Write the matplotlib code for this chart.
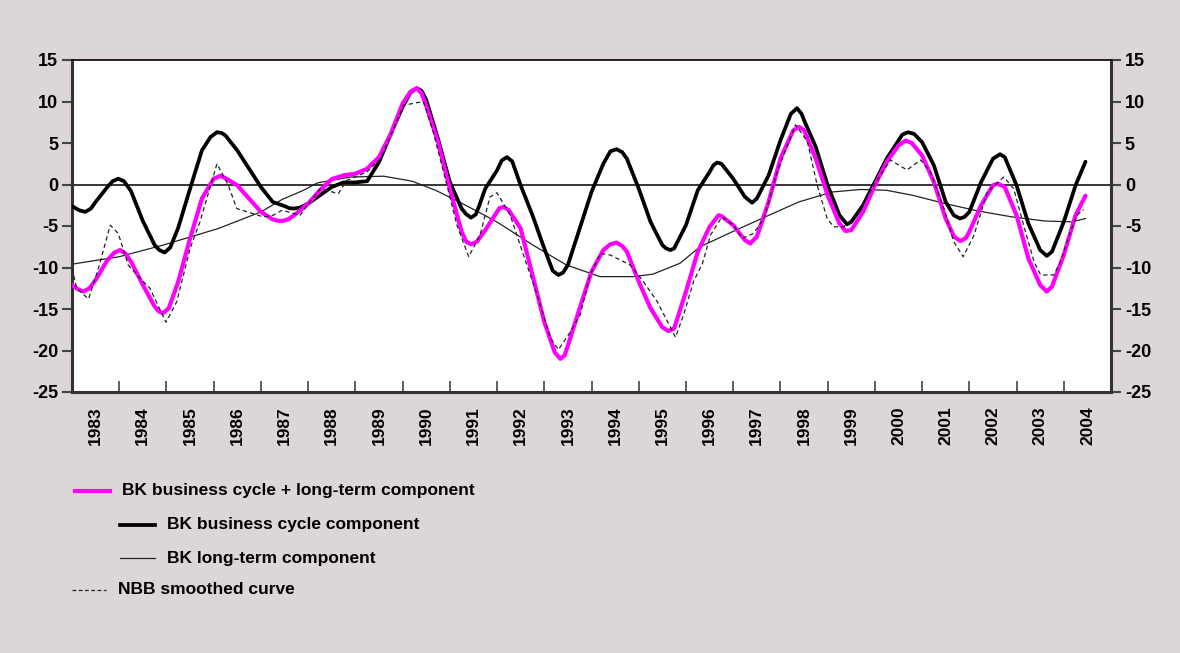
import numpy as np
import matplotlib
matplotlib.use("Agg")
import matplotlib.pyplot as plt
from matplotlib.lines import Line2D

plt.rcParams['font.family'] = ['Liberation Sans', 'DejaVu Sans']
plt.rcParams['axes.unicode_minus'] = False

# BK business cycle + long-term component (magenta)
sum_t = [1983.0, 1983.12, 1983.24, 1983.37, 1983.5, 1983.75, 1983.9, 1984.02, 1984.13, 1984.25,
         1984.5, 1984.75, 1984.84, 1984.93, 1985.05, 1985.25, 1985.5, 1985.75, 1986.0, 1986.15,
         1986.3, 1986.5, 1986.75, 1987.0, 1987.25, 1987.35, 1987.45, 1987.58, 1987.75, 1988.0,
         1988.25, 1988.5, 1988.75, 1989.0, 1989.25, 1989.5, 1989.75, 1990.0, 1990.17, 1990.3,
         1990.4, 1990.5, 1990.75, 1991.0, 1991.25, 1991.35, 1991.45, 1991.57, 1991.75, 1992.0,
         1992.05, 1992.14, 1992.25, 1992.5, 1992.75, 1993.0, 1993.22, 1993.34, 1993.43, 1993.5,
         1993.75, 1994.0, 1994.25, 1994.4, 1994.53, 1994.65, 1994.75, 1995.0, 1995.25, 1995.5,
         1995.63, 1995.75, 1996.0, 1996.25, 1996.5, 1996.69, 1996.75, 1997.0, 1997.25, 1997.36,
         1997.5, 1997.75, 1998.0, 1998.27, 1998.39, 1998.5, 1998.75, 1999.0, 1999.25, 1999.38,
         1999.5, 1999.75, 2000.0, 2000.25, 2000.5, 2000.65, 2000.78, 2001.0, 2001.25, 2001.5,
         2001.68, 2001.81, 2001.92, 2002.0, 2002.25, 2002.5, 2002.6, 2002.75, 2003.0, 2003.25,
         2003.5, 2003.64, 2003.75, 2004.0, 2004.25, 2004.46]
sum_v = [-12.1, -12.6, -12.9, -12.5, -11.5, -9.1, -8.2, -7.9, -8.3, -9.3,
         -12.1, -14.7, -15.3, -15.5, -14.9, -11.7, -6.5, -1.7, 0.7, 1.05,
         0.6, -0.1, -1.7, -3.3, -4.2, -4.35, -4.4, -4.2, -3.5, -2.3,
         -0.7, 0.65, 1.1, 1.3, 1.9, 3.3, 6.1, 9.75, 11.2, 11.6,
         11.0, 9.5, 5.1, -0.5, -5.7, -6.9, -7.2, -6.9, -5.5, -3.3,
         -2.85, -2.7, -3.1, -5.3, -10.9, -16.55, -20.2, -21.0, -20.6, -19.4,
         -14.9, -10.5, -7.9, -7.2, -7.0, -7.4, -8.1, -11.7, -14.9, -17.2,
         -17.65, -17.35, -12.9, -8.1, -5.1, -3.7, -3.8, -4.9, -6.7, -7.1,
         -6.3, -2.1, 3.1, 6.5, 6.95, 6.55, 3.1, -1.3, -4.7, -5.6,
         -5.5, -3.3, -0.1, 2.7, 4.7, 5.3, 5.0, 3.5, 0.3, -4.1,
         -6.3, -6.8, -6.5, -5.7, -2.5, -0.1, 0.1, -0.3, -3.7, -8.9,
         -12.1, -12.9, -12.3, -8.5, -3.7, -1.35]

# BK business cycle component (thick black)
cyc_t = [1983.0, 1983.15, 1983.28, 1983.4, 1983.5, 1983.75, 1983.86, 1983.98, 1984.1, 1984.25,
         1984.5, 1984.75, 1984.85, 1984.96, 1985.08, 1985.25, 1985.5, 1985.75, 1985.93, 1986.07,
         1986.17, 1986.25, 1986.5, 1986.75, 1987.0, 1987.25, 1987.5, 1987.6, 1987.69, 1987.82,
         1988.0, 1988.25, 1988.5, 1988.75, 1989.0, 1989.25, 1989.5, 1989.75, 1990.0, 1990.17,
         1990.3, 1990.4, 1990.5, 1990.75, 1991.0, 1991.25, 1991.35, 1991.45, 1991.55, 1991.62,
         1991.75, 1992.0, 1992.1, 1992.21, 1992.32, 1992.5, 1992.75, 1993.0, 1993.18, 1993.3,
         1993.4, 1993.5, 1993.75, 1994.0, 1994.25, 1994.4, 1994.53, 1994.65, 1994.75, 1995.0,
         1995.25, 1995.5, 1995.58, 1995.67, 1995.75, 1996.0, 1996.25, 1996.5, 1996.58, 1996.66,
         1996.75, 1997.0, 1997.25, 1997.4, 1997.5, 1997.75, 1998.0, 1998.22, 1998.35, 1998.45,
         1998.5, 1998.75, 1999.0, 1999.25, 1999.41, 1999.5, 1999.75, 2000.0, 2000.25, 2000.5,
         2000.58, 2000.7, 2000.83, 2001.0, 2001.25, 2001.5, 2001.67, 2001.8, 2001.9, 2002.0,
         2002.25, 2002.5, 2002.65, 2002.75, 2003.0, 2003.25, 2003.5, 2003.64, 2003.75, 2004.0,
         2004.25, 2004.46]
cyc_v = [-2.6, -3.1, -3.3, -2.9, -2.1, -0.3, 0.4, 0.7, 0.4, -0.8,
         -4.4, -7.3, -7.9, -8.2, -7.6, -5.2, -0.5, 4.1, 5.7, 6.3,
         6.2, 5.9, 4.1, 1.9, -0.3, -2.1, -2.6, -2.85, -2.9, -2.8,
         -2.3, -1.3, -0.3, 0.25, 0.25, 0.4, 2.7, 6.1, 9.35, 11.1,
         11.6, 11.3, 10.2, 5.5, 0.3, -2.9, -3.6, -4.0, -3.6, -2.6,
         -0.5, 1.7, 2.9, 3.3, 2.8, -0.1, -3.7, -7.7, -10.4, -10.9,
         -10.6, -9.7, -5.3, -0.9, 2.5, 4.0, 4.25, 3.9, 3.1, -0.5,
         -4.5, -7.3, -7.7, -7.9, -7.7, -4.9, -0.7, 1.5, 2.3, 2.65,
         2.5, 0.7, -1.5, -2.2, -1.7, 1.1, 5.3, 8.5, 9.2, 8.5,
         7.75, 4.5, -0.1, -3.7, -4.8, -4.5, -2.5, 0.3, 3.1, 5.3,
         6.0, 6.3, 6.1, 5.1, 2.3, -2.1, -3.7, -4.1, -3.9, -3.3,
         0.3, 3.1, 3.65, 3.3, -0.1, -4.7, -7.9, -8.6, -8.1, -4.5,
         -0.1, 2.75]

# BK long-term component (thin line)
trend_t = [1983.0, 1984.0, 1984.93, 1986.1, 1987.0, 1987.45, 1987.9, 1988.2, 1988.9, 1989.6,
           1990.2, 1990.7, 1991.2, 1991.8, 1992.05, 1992.76, 1993.47, 1994.18, 1994.88, 1995.3,
           1995.87, 1996.3, 1996.98, 1997.68, 1998.39, 1999.1, 1999.7, 2000.25, 2000.8, 2001.49,
           2002.19, 2002.9, 2003.6, 2004.17, 2004.46]
trend_v = [-9.6, -8.7, -7.3, -5.3, -3.3, -1.8, -0.7, 0.2, 0.9, 1.0,
           0.4, -0.7, -2.1, -3.9, -4.7, -7.3, -9.7, -11.1, -11.1, -10.8,
           -9.5, -7.5, -5.7, -3.9, -2.1, -0.9, -0.6, -0.7, -1.3, -2.3,
           -3.2, -3.9, -4.4, -4.5, -4.1]

# NBB smoothed curve (dashed)
nbb_t = [1983.0, 1983.1, 1983.35, 1983.56, 1983.81, 1983.98, 1984.19, 1984.44, 1984.65, 1984.99,
         1985.22, 1985.5, 1985.71, 1986.07, 1986.31, 1986.49, 1986.77, 1987.05, 1987.26, 1987.45,
         1987.83, 1988.25, 1988.64, 1988.82, 1989.24, 1989.53, 1989.81, 1990.02, 1990.44, 1990.65,
         1990.94, 1991.15, 1991.4, 1991.64, 1991.85, 1992.0, 1992.28, 1992.56, 1992.85, 1993.13,
         1993.3, 1993.55, 1993.76, 1993.97, 1994.19, 1994.4, 1994.82, 1995.1, 1995.39, 1995.78,
         1995.95, 1996.16, 1996.35, 1996.52, 1996.76, 1997.01, 1997.19, 1997.43, 1997.65, 1997.93,
         1998.32, 1998.57, 1998.78, 1998.99, 1999.13, 1999.34, 1999.62, 1999.98, 2000.33, 2000.68,
         2000.97, 2001.18, 2001.46, 2001.67, 2001.87, 2002.1, 2002.38, 2002.73, 2002.94, 2003.15,
         2003.37, 2003.51, 2003.79, 2003.93, 2004.14, 2004.28, 2004.42]
nbb_v = [-10.1, -12.5, -13.8, -10.1, -4.9, -5.9, -9.7, -11.3, -12.5, -16.6,
         -14.1, -7.7, -4.5, 2.5, -0.1, -2.9, -3.4, -3.9, -3.7, -3.1,
         -3.7, -0.5, -1.1, 0.5, 1.5, 3.1, 6.7, 9.55, 10.0, 6.3,
         -0.1, -4.9, -8.7, -6.1, -1.5, -1.0, -3.7, -8.5, -13.3, -18.5,
         -19.9, -17.8, -15.7, -10.9, -8.3, -8.5, -9.7, -11.7, -14.1, -18.4,
         -15.7, -11.7, -9.5, -6.1, -3.9, -4.9, -6.5, -5.9, -4.1, 1.5,
         7.2, 5.2, -0.1, -4.1, -5.1, -5.1, -3.7, -0.1, 2.95, 1.75,
         2.95, 1.5, -2.9, -6.9, -8.7, -6.1, -0.9, 0.9, -0.5, -4.9,
         -9.3, -10.9, -10.9, -9.3, -5.7, -3.7, -3.0]

years = list(range(1983, 2005))
bg = '#ddd6d6'
W, H = 1180, 653

fig = plt.figure(figsize=(11.8, 6.53), dpi=100, facecolor=bg)
ax = fig.add_axes([72 / W, 1 - 392 / H, (1111 - 72) / W, (392 - 60) / H])
ax.set_facecolor('white')

ax.axhline(0, color='black', lw=1.1, zorder=1)
ax.plot(trend_t, trend_v, color='#222222', lw=0.9, zorder=2)
ax.plot(cyc_t, cyc_v, color='black', lw=2.7, zorder=3,
        solid_joinstyle='round', solid_capstyle='round')
ax.plot(sum_t, sum_v, color='#ff00ff', lw=3.0, zorder=4,
        solid_joinstyle='round', solid_capstyle='round')
ax.plot(nbb_t, nbb_v, color='#222222', lw=0.9, ls=(0, (3.5, 2.5)), zorder=5)

ax.set_xlim(1983, 2005)
ax.set_ylim(-25, 15)
ax.set_yticks(range(-25, 20, 5))

# ticks at year boundaries, labels in the middle of each year
ax.set_xticks(range(1984, 2005))
ax.set_xticklabels([])
ax.set_xticks([y + 0.5 for y in years], minor=True)
ax.set_xticklabels([str(y) for y in years], minor=True, rotation=90,
                   fontsize=12.5, fontweight='bold')
ax.tick_params(axis='x', which='major', direction='in', length=8, width=1.2, color='#444444')
ax.tick_params(axis='x', which='minor', length=0, pad=10)
ax.tick_params(axis='y', which='major', direction='out', length=7, width=1.5, color='#444444',
               labelsize=13, left=True, right=True, labelleft=True, labelright=True, pad=3)
for lab in ax.get_yticklabels():
    lab.set_fontweight('bold')

for s in ['left', 'right', 'bottom']:
    ax.spines[s].set_linewidth(2.2)
    ax.spines[s].set_color('#333333')
ax.spines['top'].set_linewidth(1.2)
ax.spines['top'].set_color('black')

# legend drawn below the chart
items = [
    (75, 110, 491, dict(color='#ff00ff', lw=3.0), 'BK business cycle + long-term component'),
    (120, 155, 525, dict(color='black', lw=2.7), 'BK business cycle component'),
    (120, 155, 558, dict(color='#222222', lw=0.9), 'BK long-term component'),
    (72, 106, 590, dict(color='#222222', lw=0.9, ls=(0, (3, 2))), 'NBB smoothed curve'),
]
for x0, x1, yy, style, label in items:
    fig.add_artist(Line2D([x0 / W, x1 / W], [1 - yy / H, 1 - yy / H], **style))
    fig.text((x1 + 12) / W, 1 - yy / H, label, fontsize=12.5, fontweight='bold',
             va='center', ha='left')

fig.savefig('out.png', dpi=100, facecolor=bg)
